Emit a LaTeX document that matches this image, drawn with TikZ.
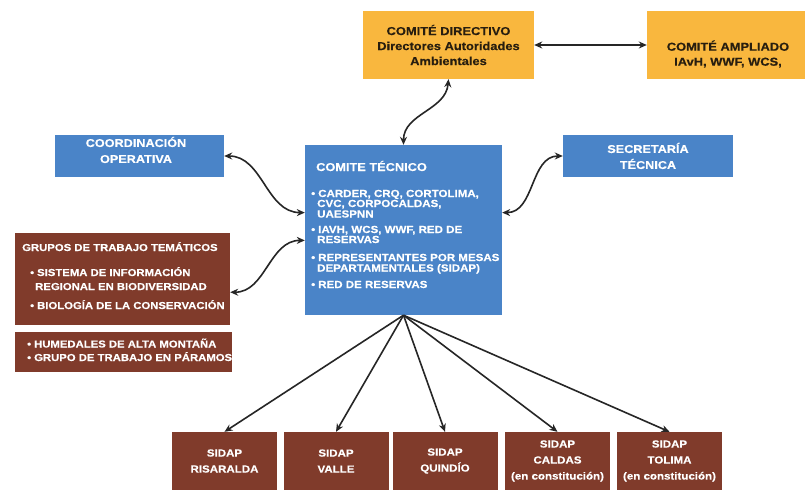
\documentclass[tikz,border=0pt]{standalone}
\usepackage{fontspec}
\setmainfont{Liberation Sans}
\newfontfamily\dfont[FakeStretch=1.12,FakeBold=0.3]{Liberation Sans}
\usetikzlibrary{arrows.meta,calc}
\definecolor{orangebox}{RGB}{249,183,62}
\definecolor{bluebox}{RGB}{74,132,200}
\definecolor{brownbox}{RGB}{128,59,43}
\definecolor{darktext}{RGB}{40,30,15}
\newcommand\myfs[2]{\dfont\bfseries\fontsize{#1}{#2}\selectfont}
\tikzset{
  box/.style={rectangle, inner sep=0pt, align=center},
  obox/.style={box, fill=orangebox, text=darktext},
  bbox/.style={box, fill=bluebox, text=white},
  rbox/.style={box, fill=brownbox, text=white},
  txt/.style={inner sep=0pt, anchor=base west},
  wtxt/.style={txt, text=white},
  conn/.style={draw=black!85, line width=1.6pt, -{Stealth[length=8pt,width=7pt]}},
  biconn/.style={draw=black!85, line width=1.6pt, {Stealth[length=8pt,width=7pt]}-{Stealth[length=8pt,width=7pt]}},
}
\begin{document}
\begin{tikzpicture}[x=1pt,y=-1pt]
\useasboundingbox[fill=white] (0,0) rectangle (806,491);

% top orange boxes
\node[obox, minimum width=171pt, minimum height=68pt, font=\myfs{11.5}{15}] (dir) at (448.5,45) {COMITÉ DIRECTIVO\\Directores Autoridades\\Ambientales};
\node[obox, minimum width=158pt, minimum height=68pt] (amp) at (726,45) {};
\node[box, text=darktext, font=\myfs{11.5}{15}] (ampT) at (728,54) {COMITÉ AMPLIADO\\IAvH, WWF, WCS,};

% blue boxes
\node[bbox, minimum width=169pt, minimum height=42pt] (coord) at (139.5,156) {};
\node[box, text=white, font=\myfs{11.3}{16}] (coordT) at (136,150) {COORDINACIÓN\\OPERATIVA};
\node[bbox, minimum width=170pt, minimum height=42pt, font=\myfs{11.3}{16}] (sec) at (648,156) {SECRETARÍA\\TÉCNICA};

\node[bbox, minimum width=197pt, minimum height=170pt] (tec) at (403.5,230) {};
\node[wtxt, font=\myfs{11.4}{12}] (t0) at (316,171) {COMITE TÉCNICO};
\begin{scope}[every node/.style={wtxt, font=\myfs{10.3}{10}}]
\node (t1) at (311,197) {•\hspace{3pt}CARDER, CRQ, CORTOLIMA,};
\node (t2) at (317,207) {CVC, CORPOCALDAS,};
\node (t3) at (317,217.5) {UAESPNN};
\node (t4) at (311,233) {•\hspace{3pt}IAVH, WCS, WWF, RED DE};
\node (t5) at (317,243) {RESERVAS};
\node (t6) at (311,261) {•\hspace{3pt}REPRESENTANTES POR MESAS};
\node (t7) at (317,271.5) {DEPARTAMENTALES (SIDAP)};
\node (t8) at (311,288) {•\hspace{3pt}RED DE RESERVAS};
\end{scope}

% brown left boxes
\node[rbox, minimum width=215pt, minimum height=92pt] (grupos) at (122.5,279) {};
\node[rbox, minimum width=217pt, minimum height=40pt] (hum) at (123.5,352) {};
\begin{scope}[every node/.style={wtxt, font=\myfs{10.1}{10}}]
\node (g0) at (22,251) {GRUPOS DE TRABAJO TEMÁTICOS};
\node (g1) at (30,276) {•\hspace{3pt}SISTEMA DE INFORMACIÓN};
\node (g2) at (35,290) {REGIONAL EN BIODIVERSIDAD};
\node (g3) at (30,309) {•\hspace{3pt}BIOLOGÍA DE LA CONSERVACIÓN};
\node (h1) at (27,347.5) {•\hspace{3pt}HUMEDALES DE ALTA MONTAÑA};
\node (h2) at (27,361) {•\hspace{3pt}GRUPO DE TRABAJO EN PÁRAMOS};
\end{scope}

% SIDAP boxes
\begin{scope}[every node/.style={rbox, minimum width=105pt, minimum height=58pt, font=\myfs{10.3}{16}}]
\node (s1) at (224.5,461) {SIDAP\\RISARALDA};
\node (s2) at (336,461) {SIDAP\\VALLE};
\node (s3) at (445,461) {SIDAP\\QUINDÍO};
\node (s4) at (557.5,461) {SIDAP\\CALDAS\\(en constitución)};
\node (s5) at (669.5,461) {SIDAP\\TOLIMA\\(en constitución)};
\end{scope}

% connectors
\draw[biconn] (dir.east) -- (amp.west);
\draw[biconn] (dir.south) to[out=-95,in=90] (tec.north);
\draw[biconn] (coord.east) to[out=0,in=180] (tec.170);
\draw[biconn] (grupos.-7) to[out=0,in=180] (tec.186);
\draw[biconn] (sec.west) to[out=180,in=0] (tec.10);
\foreach \s in {s1,s2,s3,s4,s5}
  \draw[conn] (tec.south) -- (\s.north);
\end{tikzpicture}
\end{document}
